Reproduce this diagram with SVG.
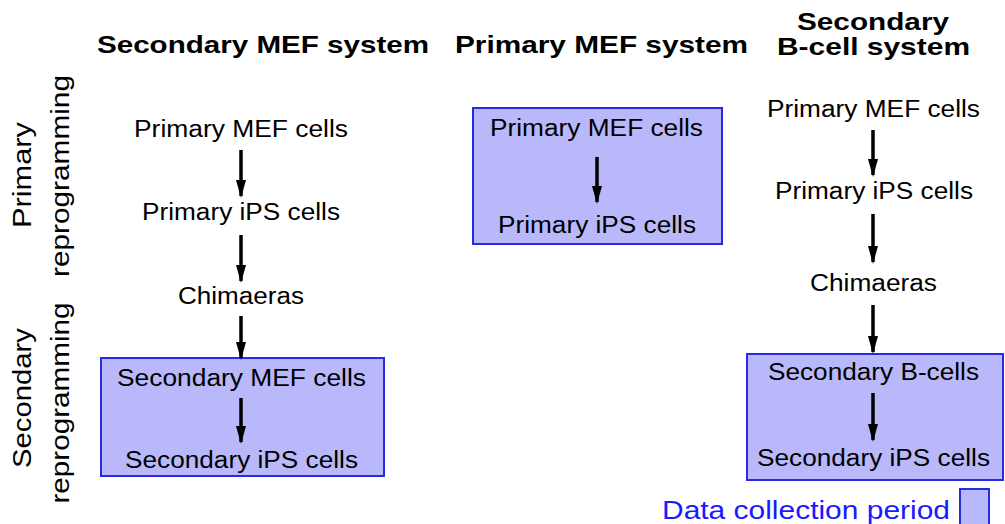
<svg xmlns="http://www.w3.org/2000/svg" width="1005" height="524" viewBox="0 0 1005 524">
<style>
.t{font-family:"Liberation Sans",Arial,sans-serif;font-size:23px;fill:#000}
.h{font-family:"Liberation Sans",Arial,sans-serif;font-size:24px;font-weight:bold;fill:#000}
.v{font-family:"Liberation Sans",Arial,sans-serif;font-size:25px;fill:#000}
.box{fill:#b8b8fa;stroke:#2a2ae6;stroke-width:2}
.arr{stroke:#000;stroke-width:3.5;fill:none;marker-end:url(#ah)}
.leg{font-family:"Liberation Sans",Arial,sans-serif;font-size:25px;fill:#1a1aff}
</style>
<defs>
<marker id="ah" markerUnits="userSpaceOnUse" markerWidth="18" markerHeight="12" refX="16" refY="5" orient="auto" viewBox="0 0 18 10">
<path d="M0,0 L18,5 L0,10 Z" fill="#000"/>
</marker>
</defs>
<rect width="1005" height="524" fill="#fff"/>

<g id="headers">
<text class="h" x="97" y="53" textLength="332" lengthAdjust="spacingAndGlyphs">Secondary MEF system</text>
<text class="h" x="455" y="53" textLength="293" lengthAdjust="spacingAndGlyphs">Primary MEF system</text>
<text class="h" x="797" y="30" textLength="152" lengthAdjust="spacingAndGlyphs">Secondary</text>
<text class="h" x="777" y="55" textLength="193" lengthAdjust="spacingAndGlyphs">B-cell system</text>
</g>

<g id="row-labels">
<text class="v" text-anchor="middle" transform="translate(31,175) rotate(-90)" textLength="106" lengthAdjust="spacingAndGlyphs">Primary</text>
<text class="v" text-anchor="middle" transform="translate(69,176) rotate(-90)" textLength="202" lengthAdjust="spacingAndGlyphs">reprogramming</text>
<text class="v" text-anchor="middle" transform="translate(31,398) rotate(-90)" textLength="140" lengthAdjust="spacingAndGlyphs">Secondary</text>
<text class="v" text-anchor="middle" transform="translate(69,403) rotate(-90)" textLength="201" lengthAdjust="spacingAndGlyphs">reprogramming</text>
</g>

<g id="box-secondary-mef">
<rect class="box" x="101" y="358" width="283" height="118"/>
</g>
<g id="box-primary-mef">
<rect class="box" x="473" y="108" width="249" height="136"/>
</g>
<g id="box-secondary-bcell">
<rect class="box" x="747" y="354" width="256" height="126"/>
</g>

<g id="connectors">
<line class="arr" x1="241" y1="150" x2="241" y2="196"/>
<line class="arr" x1="241" y1="235" x2="241" y2="281"/>
<line class="arr" x1="241" y1="316" x2="241" y2="358"/>
<line class="arr" x1="241" y1="398" x2="241" y2="442"/>
<line class="arr" x1="597" y1="157" x2="597" y2="202"/>
<line class="arr" x1="873" y1="130" x2="873" y2="175"/>
<line class="arr" x1="873" y1="214" x2="873" y2="262"/>
<line class="arr" x1="873" y1="305" x2="873" y2="352"/>
<line class="arr" x1="873" y1="393" x2="873" y2="440"/>
</g>

<g id="n-left-primary-mef"><text class="t" x="134" y="137" textLength="214" lengthAdjust="spacingAndGlyphs">Primary MEF cells</text></g>
<g id="n-left-primary-ips"><text class="t" x="142" y="220" textLength="198" lengthAdjust="spacingAndGlyphs">Primary iPS cells</text></g>
<g id="n-left-chimaeras"><text class="t" x="178" y="304" textLength="126" lengthAdjust="spacingAndGlyphs">Chimaeras</text></g>
<g id="n-left-secondary-mef"><text class="t" x="117" y="386" textLength="249" lengthAdjust="spacingAndGlyphs">Secondary MEF cells</text></g>
<g id="n-left-secondary-ips"><text class="t" x="125" y="468" textLength="233" lengthAdjust="spacingAndGlyphs">Secondary iPS cells</text></g>

<g id="n-mid-primary-mef"><text class="t" x="490" y="136" textLength="213" lengthAdjust="spacingAndGlyphs">Primary MEF cells</text></g>
<g id="n-mid-primary-ips"><text class="t" x="498" y="233" textLength="198" lengthAdjust="spacingAndGlyphs">Primary iPS cells</text></g>

<g id="n-right-primary-mef"><text class="t" x="767" y="117" textLength="213" lengthAdjust="spacingAndGlyphs">Primary MEF cells</text></g>
<g id="n-right-primary-ips"><text class="t" x="775" y="199" textLength="198" lengthAdjust="spacingAndGlyphs">Primary iPS cells</text></g>
<g id="n-right-chimaeras"><text class="t" x="810" y="291" textLength="127" lengthAdjust="spacingAndGlyphs">Chimaeras</text></g>
<g id="n-right-secondary-b"><text class="t" x="768" y="380" textLength="211" lengthAdjust="spacingAndGlyphs">Secondary B-cells</text></g>
<g id="n-right-secondary-ips"><text class="t" x="757" y="466" textLength="233" lengthAdjust="spacingAndGlyphs">Secondary iPS cells</text></g>

<g id="legend">
<text class="leg" x="662" y="519" textLength="288" lengthAdjust="spacingAndGlyphs">Data collection period</text>
<rect class="box" x="960" y="489" width="29" height="40"/>
</g>
</svg>
